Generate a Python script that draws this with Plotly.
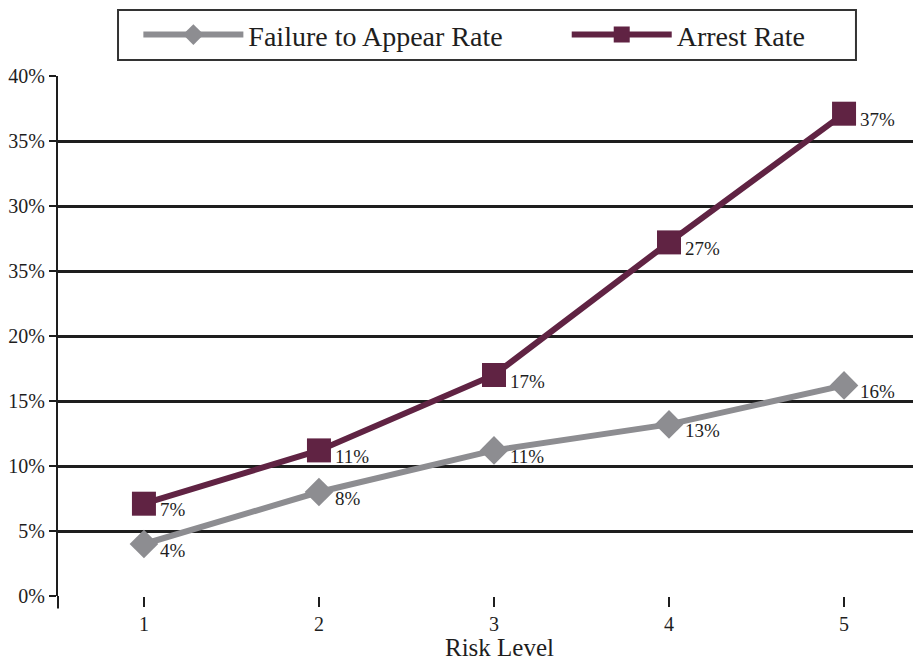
import plotly.graph_objects as go

risk_levels = [1, 2, 3, 4, 5]
fta_rate = [4.0, 8.0, 11.2, 13.2, 16.2]
fta_labels = ["4%", "8%", "11%", "13%", "16%"]
arrest_rate = [7.1, 11.2, 17.0, 27.2, 37.1]
arrest_labels = ["7%", "11%", "17%", "27%", "37%"]
y_tick_vals = [0, 5, 10, 15, 20, 25, 30, 35, 40]
y_tick_text = ["0%", "5%", "10%", "15%", "20%", "35%", "30%", "35%", "40%"]

FONT = "Liberation Serif, DejaVu Serif, serif"
FTA_COLOR = "#8d8d91"
ARR_COLOR = "#602343"
INK = "#1e1e1e"

fig = go.Figure()
fig.add_trace(go.Scatter(
    x=risk_levels, y=fta_rate, name="Failure to Appear Rate",
    mode="lines+markers",
    line=dict(color=FTA_COLOR, width=6),
    marker=dict(symbol="diamond", size=22, color=FTA_COLOR),
    cliponaxis=False, legend="legend",
))
fig.add_trace(go.Scatter(
    x=risk_levels, y=arrest_rate, name="Arrest Rate",
    mode="lines+markers",
    line=dict(color=ARR_COLOR, width=6),
    marker=dict(symbol="square", size=24, color=ARR_COLOR),
    cliponaxis=False, legend="legend2",
))

# value labels, placed just right of and slightly below each marker
for xs, ys, labels in [(risk_levels, fta_rate, fta_labels), (risk_levels, arrest_rate, arrest_labels)]:
    for xv, yv, lab in zip(xs, ys, labels):
        fig.add_annotation(x=xv, y=yv, text=lab, showarrow=False,
                           xanchor="left", yanchor="middle", xshift=14, yshift=-6,
                           font=dict(family=FONT, size=19, color=INK))

legend_common = dict(
    orientation="h", yanchor="middle", y=1.079, xanchor="left",
    bgcolor="rgba(0,0,0,0)", borderwidth=0,
    font=dict(family=FONT, size=28, color=INK),
    itemwidth=100,
)

fig.update_layout(
    width=905, height=655,
    margin=dict(l=50, r=0, t=68, b=67, autoexpand=False),
    paper_bgcolor="white", plot_bgcolor="white",
    font=dict(family=FONT, color=INK),
    showlegend=True,
    legend=dict(x=0.094, **legend_common),
    legend2=dict(x=0.595, **legend_common),
    xaxis=dict(
        range=[0.509, 5.394], tickvals=risk_levels,
        ticks="outside", ticklen=10, tickwidth=2, tickcolor=INK,
        showline=False, showgrid=False, zeroline=False,
        tickfont=dict(family=FONT, size=20, color=INK),
        automargin=False,
    ),
    yaxis=dict(
        range=[0, 40], tickvals=y_tick_vals, ticktext=y_tick_text,
        ticks="outside", ticklen=7, tickwidth=2, tickcolor=INK,
        showline=True, linecolor=INK, linewidth=2,
        showgrid=True, gridcolor=INK, gridwidth=3,
        zeroline=False, automargin=False,
        tickfont=dict(family=FONT, size=20, color=INK),
    ),
)
# x-axis title
fig.add_annotation(text="Risk Level", xref="paper", yref="paper", x=0.516, y=-0.126,
                   xanchor="center", yanchor="bottom", showarrow=False, borderpad=0,
                   font=dict(family=FONT, size=25, color=INK))
# legend frame and the short extension of the y-axis line below the x axis
fig.add_shape(type="rect", xref="paper", yref="paper", x0=0.0702, x1=0.9333, y0=1.031, y1=1.127,
              line=dict(color="#333", width=2), fillcolor="rgba(0,0,0,0)")
fig.add_shape(type="line", xref="paper", yref="paper", x0=0, x1=0, y0=0, y1=-0.024,
              line=dict(color=INK, width=2))

fig.write_html("out.html")
